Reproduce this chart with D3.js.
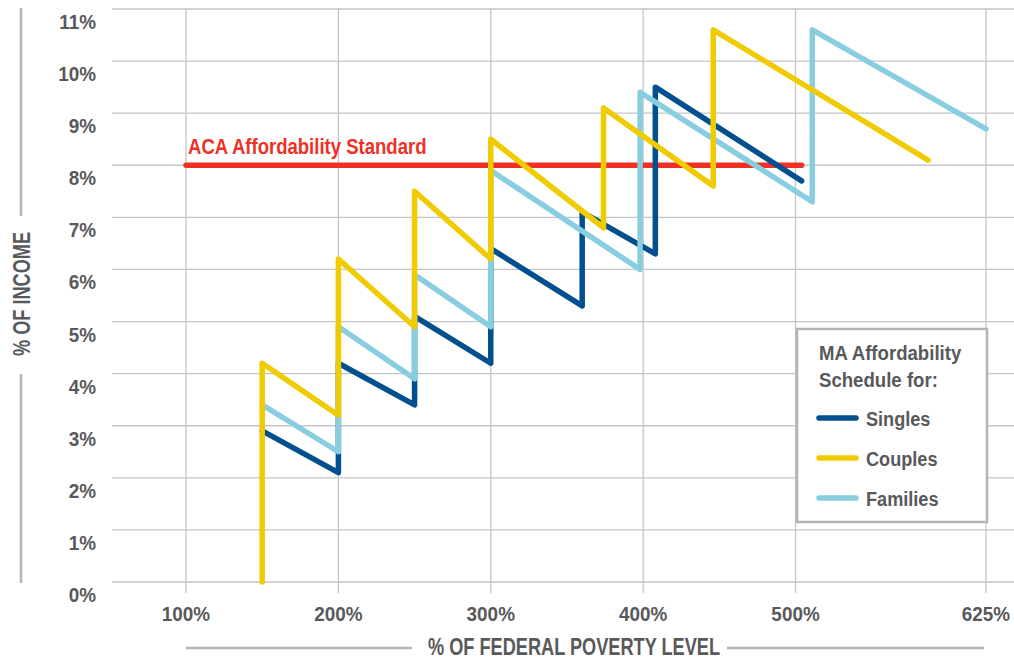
<!DOCTYPE html>
<html>
<head>
<meta charset="utf-8">
<script src="https://cdn.jsdelivr.net/npm/d3@7"></script>
<style>
  html, body { margin: 0; padding: 0; background: #fff; }
  svg { display: block; }
  text { font-family: "Liberation Sans", Arial, Helvetica, sans-serif; font-weight: bold; }
</style>
</head>
<body>
<svg id="chart" width="1014" height="660"></svg>
<script>
// Federal poverty level (%) tick values and labels
const xTicks = [100, 200, 300, 400, 500, 625];
const xTickLabels = ["100%", "200%", "300%", "400%", "500%", "625%"];
// Share of income (%) ticks
const yTicks = [0, 1, 2, 3, 4, 5, 6, 7, 8, 9, 10, 11];

// MA affordability schedule: [FPL %, % of income]
const singles = [[150, 2.9], [200, 2.1], [200, 4.2], [250, 3.4], [250, 5.1], [300, 4.2], [300, 6.4],
                 [360, 5.3], [360, 7.1], [408, 6.3], [408, 9.5], [504, 7.7]];
const couples = [[150, 0], [150, 4.2], [200, 3.2], [200, 6.2], [250, 4.9], [250, 7.5], [300, 6.2],
                 [300, 8.5], [374, 6.8], [374, 9.1], [446, 7.6], [446, 10.6], [587, 8.1]];
const families = [[150, 3.4], [200, 2.5], [200, 4.9], [250, 3.9], [250, 5.9], [300, 4.9], [300, 7.9],
                  [398, 6.0], [398, 9.4], [511, 7.3], [511, 10.6], [625, 8.7]];
// ACA affordability standard
const aca = [[100, 8], [504, 8]];

const seriesNames = ["Singles", "Couples", "Families"];
const seriesColors = ["#00508f", "#f0cb00", "#89cde1"];
const acaColor = "#ee3124";
const textColor = "#58595b";
const gridColor = "#c4c5c7";
const ruleColor = "#b4b5b8";

const svg = d3.select("#chart");
const x = d3.scaleLinear().domain([100, 625]).range([186, 986]);
const y = d3.scaleLinear().domain([0, 11]).range([582, 9]);
const gridLeft = 112, gridRight = 1014;

// condensed bold label: text placed at (tx, ty), squeezed horizontally by sx
function label(g, tx, ty, str, size, sx, anchor, color, rotate) {
  return g.append("text")
    .attr("transform", `translate(${tx},${ty})${rotate ? ` rotate(${rotate})` : ""} scale(${sx},1)`)
    .attr("text-anchor", anchor || "start")
    .attr("fill", color || textColor)
    .attr("font-size", size)
    .text(str);
}

// horizontal grid
svg.append("g").selectAll("line").data(yTicks).join("line")
  .attr("x1", gridLeft).attr("x2", gridRight)
  .attr("y1", d => y(d)).attr("y2", d => y(d))
  .attr("stroke", gridColor).attr("stroke-width", 1.3);

// vertical grid, running a little past the baseline as tick marks
svg.append("g").selectAll("line").data(xTicks).join("line")
  .attr("x1", d => x(d)).attr("x2", d => x(d))
  .attr("y1", y(11)).attr("y2", y(0) + 11)
  .attr("stroke", gridColor).attr("stroke-width", 1.3);

// y tick labels (sitting just below their grid lines)
const yLab = svg.append("g");
yTicks.forEach(d => label(yLab, 96, y(d) + 20, d + "%", 19.5, 0.97, "end"));

// x tick labels
const xLab = svg.append("g");
xTicks.forEach((d, i) => label(xLab, x(d), 621, xTickLabels[i], 19.5, 0.97, "middle"));

// axis titles with rules beside them
svg.append("line").attr("x1", 186).attr("x2", 412).attr("y1", 648).attr("y2", 648)
  .attr("stroke", ruleColor).attr("stroke-width", 2.6);
svg.append("line").attr("x1", 727).attr("x2", 984).attr("y1", 648).attr("y2", 648)
  .attr("stroke", ruleColor).attr("stroke-width", 2.6);
label(svg, 574, 655, "% OF FEDERAL POVERTY LEVEL", 23, 0.79, "middle");

svg.append("line").attr("x1", 21).attr("x2", 21).attr("y1", 8).attr("y2", 216)
  .attr("stroke", ruleColor).attr("stroke-width", 2.6);
svg.append("line").attr("x1", 21).attr("x2", 21).attr("y1", 374).attr("y2", 583)
  .attr("stroke", ruleColor).attr("stroke-width", 2.6);
label(svg, 30, 294, "% OF INCOME", 23, 0.79, "middle", textColor, -90);

const line = d3.line().x(d => x(d[0])).y(d => y(d[1]));

// ACA standard
svg.append("path").datum(aca).attr("d", line)
  .attr("fill", "none").attr("stroke", acaColor).attr("stroke-width", 5.5).attr("stroke-linecap", "round");
label(svg, 188, 153.5, "ACA Affordability Standard", 22, 0.843, "start", acaColor);

// schedule lines: singles beneath families beneath couples
const drawOrder = [0, 2, 1];
const seriesData = [singles, couples, families];
svg.append("g").selectAll("path").data(drawOrder).join("path")
  .attr("d", i => line(seriesData[i]))
  .attr("fill", "none").attr("stroke", i => seriesColors[i])
  .attr("stroke-width", 5.5).attr("stroke-linejoin", "round").attr("stroke-linecap", "round");

// legend
const lg = svg.append("g");
lg.append("rect").attr("x", 797).attr("y", 329).attr("width", 190).attr("height", 193)
  .attr("fill", "#fff").attr("stroke", ruleColor).attr("stroke-width", 2.5);
label(lg, 819, 360, "MA Affordability", 19.5, 0.955);
label(lg, 819, 387, "Schedule for:", 19.5, 0.955);
seriesNames.forEach((name, i) => {
  const cy = 418 + i * 40;
  lg.append("line").attr("x1", 819).attr("x2", 856).attr("y1", cy).attr("y2", cy)
    .attr("stroke", seriesColors[i]).attr("stroke-width", 5.5).attr("stroke-linecap", "round");
  label(lg, 866, cy + 7.5, name, 19.5, 0.93);
});
</script>
</body>
</html>
